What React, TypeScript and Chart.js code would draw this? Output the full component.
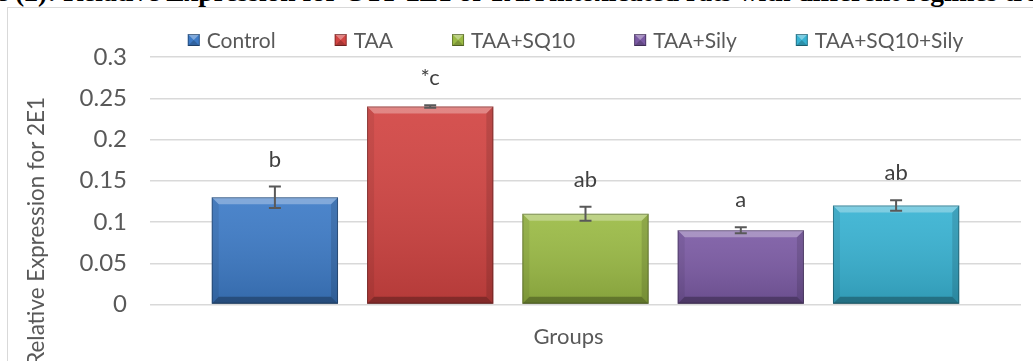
import React, { useEffect, useRef } from "react";
import { Chart, registerables } from "chart.js";

Chart.register(...registerables);

// ---- data ----
const categories = ["Groups"];
const seriesNames = ["Control", "TAA", "TAA+SQ10", "TAA+Sily", "TAA+SQ10+Sily"];
const seriesValues = [0.13, 0.24, 0.11, 0.09, 0.12];
const seriesErrors = [0.013, 0.0015, 0.0085, 0.0037, 0.0063];
const significance = ["b", "*c", "ab", "a", "ab"];
const seriesColors = ["#3D7BC7", "#D24442", "#9BBB45", "#7B5AA4", "#38B3D3"];
const yTickLabels = ["0", "0.05", "0.1", "0.15", "0.2", "0.25", "0.3"];
const yAxisTitle = "Relative Expression for 2E1";
const figureCaption =
  "e (2): Relative Expression for CYP 2E1 of TAA intoxicated rats with different regimes tre";

const FONT_FAMILY = "Lato, 'Open Sans', sans-serif";
const TEXT_GRAY = "#595959";

function fillPoly(ctx: CanvasRenderingContext2D, pts: number[][], color: string) {
  ctx.beginPath();
  ctx.moveTo(pts[0][0], pts[0][1]);
  for (let i = 1; i < pts.length; i++) ctx.lineTo(pts[i][0], pts[i][1]);
  ctx.closePath();
  ctx.fillStyle = color;
  ctx.fill();
}

// Beveled, shaded look on top of each bar
const bevelPlugin = {
  id: "bevel",
  afterDatasetsDraw(chart: any) {
    const ctx: CanvasRenderingContext2D = chart.ctx;
    ctx.save();
    chart.data.datasets.forEach((_: any, i: number) => {
      const meta = chart.getDatasetMeta(i);
      meta.data.forEach((bar: any) => {
        const { x, y, base, width } = bar.getProps(["x", "y", "base", "width"], true);
        const l = x - width / 2;
        const r = x + width / 2;
        const t = Math.min(y, base);
        const b = Math.max(y, base);
        const bv = 7;
        const g = ctx.createLinearGradient(0, t, 0, b);
        g.addColorStop(0, "rgba(255,255,255,0.08)");
        g.addColorStop(1, "rgba(0,0,0,0.14)");
        ctx.fillStyle = g;
        ctx.fillRect(l, t, r - l, b - t);
        fillPoly(ctx, [[l, t], [r, t], [r - bv, t + bv], [l + bv, t + bv]], "rgba(255,255,255,0.30)");
        fillPoly(ctx, [[l, b], [r, b], [r - bv, b - bv], [l + bv, b - bv]], "rgba(0,0,0,0.28)");
        fillPoly(ctx, [[l, t], [l + bv, t + bv], [l + bv, b - bv], [l, b]], "rgba(0,0,0,0.07)");
        fillPoly(ctx, [[r, t], [r - bv, t + bv], [r - bv, b - bv], [r, b]], "rgba(0,0,0,0.12)");
        ctx.strokeStyle = "rgba(0,0,0,0.30)";
        ctx.lineWidth = 1;
        ctx.strokeRect(l + 0.5, t + 0.5, r - l - 1, b - t - 1);
      });
    });
    ctx.restore();
  },
};

// Error bars and significance letters
const errorBarPlugin = {
  id: "errorBars",
  afterDatasetsDraw(chart: any, _args: any, opts: any) {
    const ctx: CanvasRenderingContext2D = chart.ctx;
    const yScale = chart.scales.y;
    ctx.save();
    chart.data.datasets.forEach((ds: any, i: number) => {
      const meta = chart.getDatasetMeta(i);
      meta.data.forEach((bar: any, j: number) => {
        const v = ds.data[j];
        const e = ds.errors[j];
        const x = bar.x;
        const yHi = yScale.getPixelForValue(v + e);
        const yLo = yScale.getPixelForValue(v - e);
        ctx.strokeStyle = opts.color;
        ctx.lineWidth = 2;
        ctx.beginPath();
        ctx.moveTo(x, yHi);
        ctx.lineTo(x, yLo);
        ctx.moveTo(x - opts.cap, yHi);
        ctx.lineTo(x + opts.cap, yHi);
        ctx.moveTo(x - opts.cap, yLo);
        ctx.lineTo(x + opts.cap, yLo);
        ctx.stroke();

        ctx.fillStyle = opts.labelColor;
        ctx.font = opts.font;
        ctx.textAlign = "center";
        ctx.textBaseline = "middle";
        ctx.fillText(ds.letters[j], x, yHi - opts.labelGap);
      });
    });
    ctx.restore();
  },
};

// Legend row above the plot
const topLegendPlugin = {
  id: "topLegend",
  afterDraw(chart: any, _args: any, opts: any) {
    const ctx: CanvasRenderingContext2D = chart.ctx;
    const { chartArea } = chart;
    ctx.save();
    ctx.font = opts.font;
    ctx.textBaseline = "middle";
    ctx.textAlign = "left";
    const ds = chart.data.datasets;
    const widths = ds.map((d: any) => opts.box + opts.textGap + ctx.measureText(d.label).width);
    const total = widths.reduce((a: number, b: number) => a + b, 0) + opts.itemGap * (widths.length - 1);
    let x = (chartArea.left + chartArea.right) / 2 + opts.shift - total / 2;
    const y = opts.y;
    ds.forEach((d: any, i: number) => {
      const s = opts.box;
      const bx = x;
      const by = y - s / 2;
      ctx.fillStyle = d.backgroundColor;
      ctx.fillRect(bx, by, s, s);
      fillPoly(ctx, [[bx, by], [bx + s, by], [bx + s / 2, by + s / 2]], "rgba(255,255,255,0.35)");
      fillPoly(ctx, [[bx, by + s], [bx + s, by + s], [bx + s / 2, by + s / 2]], "rgba(0,0,0,0.2)");
      ctx.strokeStyle = "rgba(0,0,0,0.35)";
      ctx.lineWidth = 1;
      ctx.strokeRect(bx + 0.5, by + 0.5, s - 1, s - 1);
      ctx.fillStyle = opts.color;
      ctx.fillText(d.label, bx + s + opts.textGap, y + 1);
      x += widths[i] + opts.itemGap;
    });
    ctx.restore();
  },
};

// Rotated value-axis title
const yTitlePlugin = {
  id: "yTitle",
  afterDraw(chart: any, _args: any, opts: any) {
    const ctx: CanvasRenderingContext2D = chart.ctx;
    ctx.save();
    ctx.translate(opts.x, opts.yEnd);
    ctx.rotate(-Math.PI / 2);
    ctx.font = opts.font;
    ctx.fillStyle = opts.color;
    ctx.textAlign = "right";
    ctx.textBaseline = "middle";
    ctx.fillText(opts.text, 0, 0);
    ctx.restore();
  },
};

function ExpressionChart() {
  const canvasRef = useRef<HTMLCanvasElement | null>(null);

  useEffect(() => {
    if (!canvasRef.current) return;
    const chart = new Chart(canvasRef.current, {
      type: "bar",
      data: {
        labels: categories,
        datasets: seriesNames.map((name, i) => ({
          label: name,
          data: [seriesValues[i]],
          errors: [seriesErrors[i]],
          letters: [significance[i]],
          backgroundColor: seriesColors[i],
          borderWidth: 0,
          categoryPercentage: 0.8915,
          barPercentage: 0.813,
        })) as any,
      },
      options: {
        responsive: false,
        devicePixelRatio: 1,
        animation: false,
        layout: { padding: { top: 49, right: 12, left: 0, bottom: 0 } },
        scales: {
          x: {
            grid: { display: false },
            border: { display: false },
            ticks: {
              color: TEXT_GRAY,
              font: { family: FONT_FAMILY, size: 22 },
              padding: 11,
              labelOffset: -17,
            },
            afterFit: (scale: any) => {
              scale.height = 56.5;
            },
          },
          y: {
            min: 0,
            max: 0.3,
            grid: { color: "#d9d9d9", lineWidth: 1.5, drawTicks: false },
            border: { display: false },
            ticks: {
              stepSize: 0.05,
              color: TEXT_GRAY,
              font: { family: FONT_FAMILY, size: 24 },
              padding: 23,
              callback: (_v: any, i: number) => yTickLabels[i],
            },
            afterFit: (scale: any) => {
              scale.width = 142;
            },
          },
        },
        plugins: {
          legend: { display: false },
          tooltip: { enabled: false },
          errorBars: {
            color: "#595959",
            cap: 6,
            labelGap: 27,
            font: `22px ${FONT_FAMILY}`,
            labelColor: "#404040",
          },
          topLegend: {
            font: `21px ${FONT_FAMILY}`,
            color: TEXT_GRAY,
            box: 12,
            textGap: 7,
            itemGap: 59,
            shift: -10,
            y: 32,
          },
          yTitle: {
            text: yAxisTitle,
            font: `22.4px ${FONT_FAMILY}`,
            color: TEXT_GRAY,
            x: 29,
            yEnd: 89,
          },
        } as any,
      },
      plugins: [bevelPlugin, errorBarPlugin, topLegendPlugin, yTitlePlugin],
    });
    return () => chart.destroy();
  }, []);

  return <canvas ref={canvasRef} width={1025} height={353} style={{ display: "block" }} />;
}

export default function App() {
  return (
    <div
      style={{
        position: "absolute",
        left: 0,
        top: 0,
        width: 1033,
        height: 361,
        overflow: "hidden",
        background: "#ffffff",
      }}
    >
      <div
        style={{
          position: "absolute",
          left: -4,
          top: -22,
          whiteSpace: "nowrap",
          fontFamily: "'Liberation Serif', 'Times New Roman', serif",
          fontWeight: "bold",
          fontSize: 27.5,
          lineHeight: "27px",
          color: "#000",
        }}
      >
        {figureCaption}
      </div>
      <div
        style={{
          position: "absolute",
          left: 7,
          top: 7,
          width: 1100,
          height: 420,
          border: "1px solid #d9d9d9",
        }}
      />
      <div style={{ position: "absolute", left: 8, top: 8 }}>
        <ExpressionChart />
      </div>
    </div>
  );
}
